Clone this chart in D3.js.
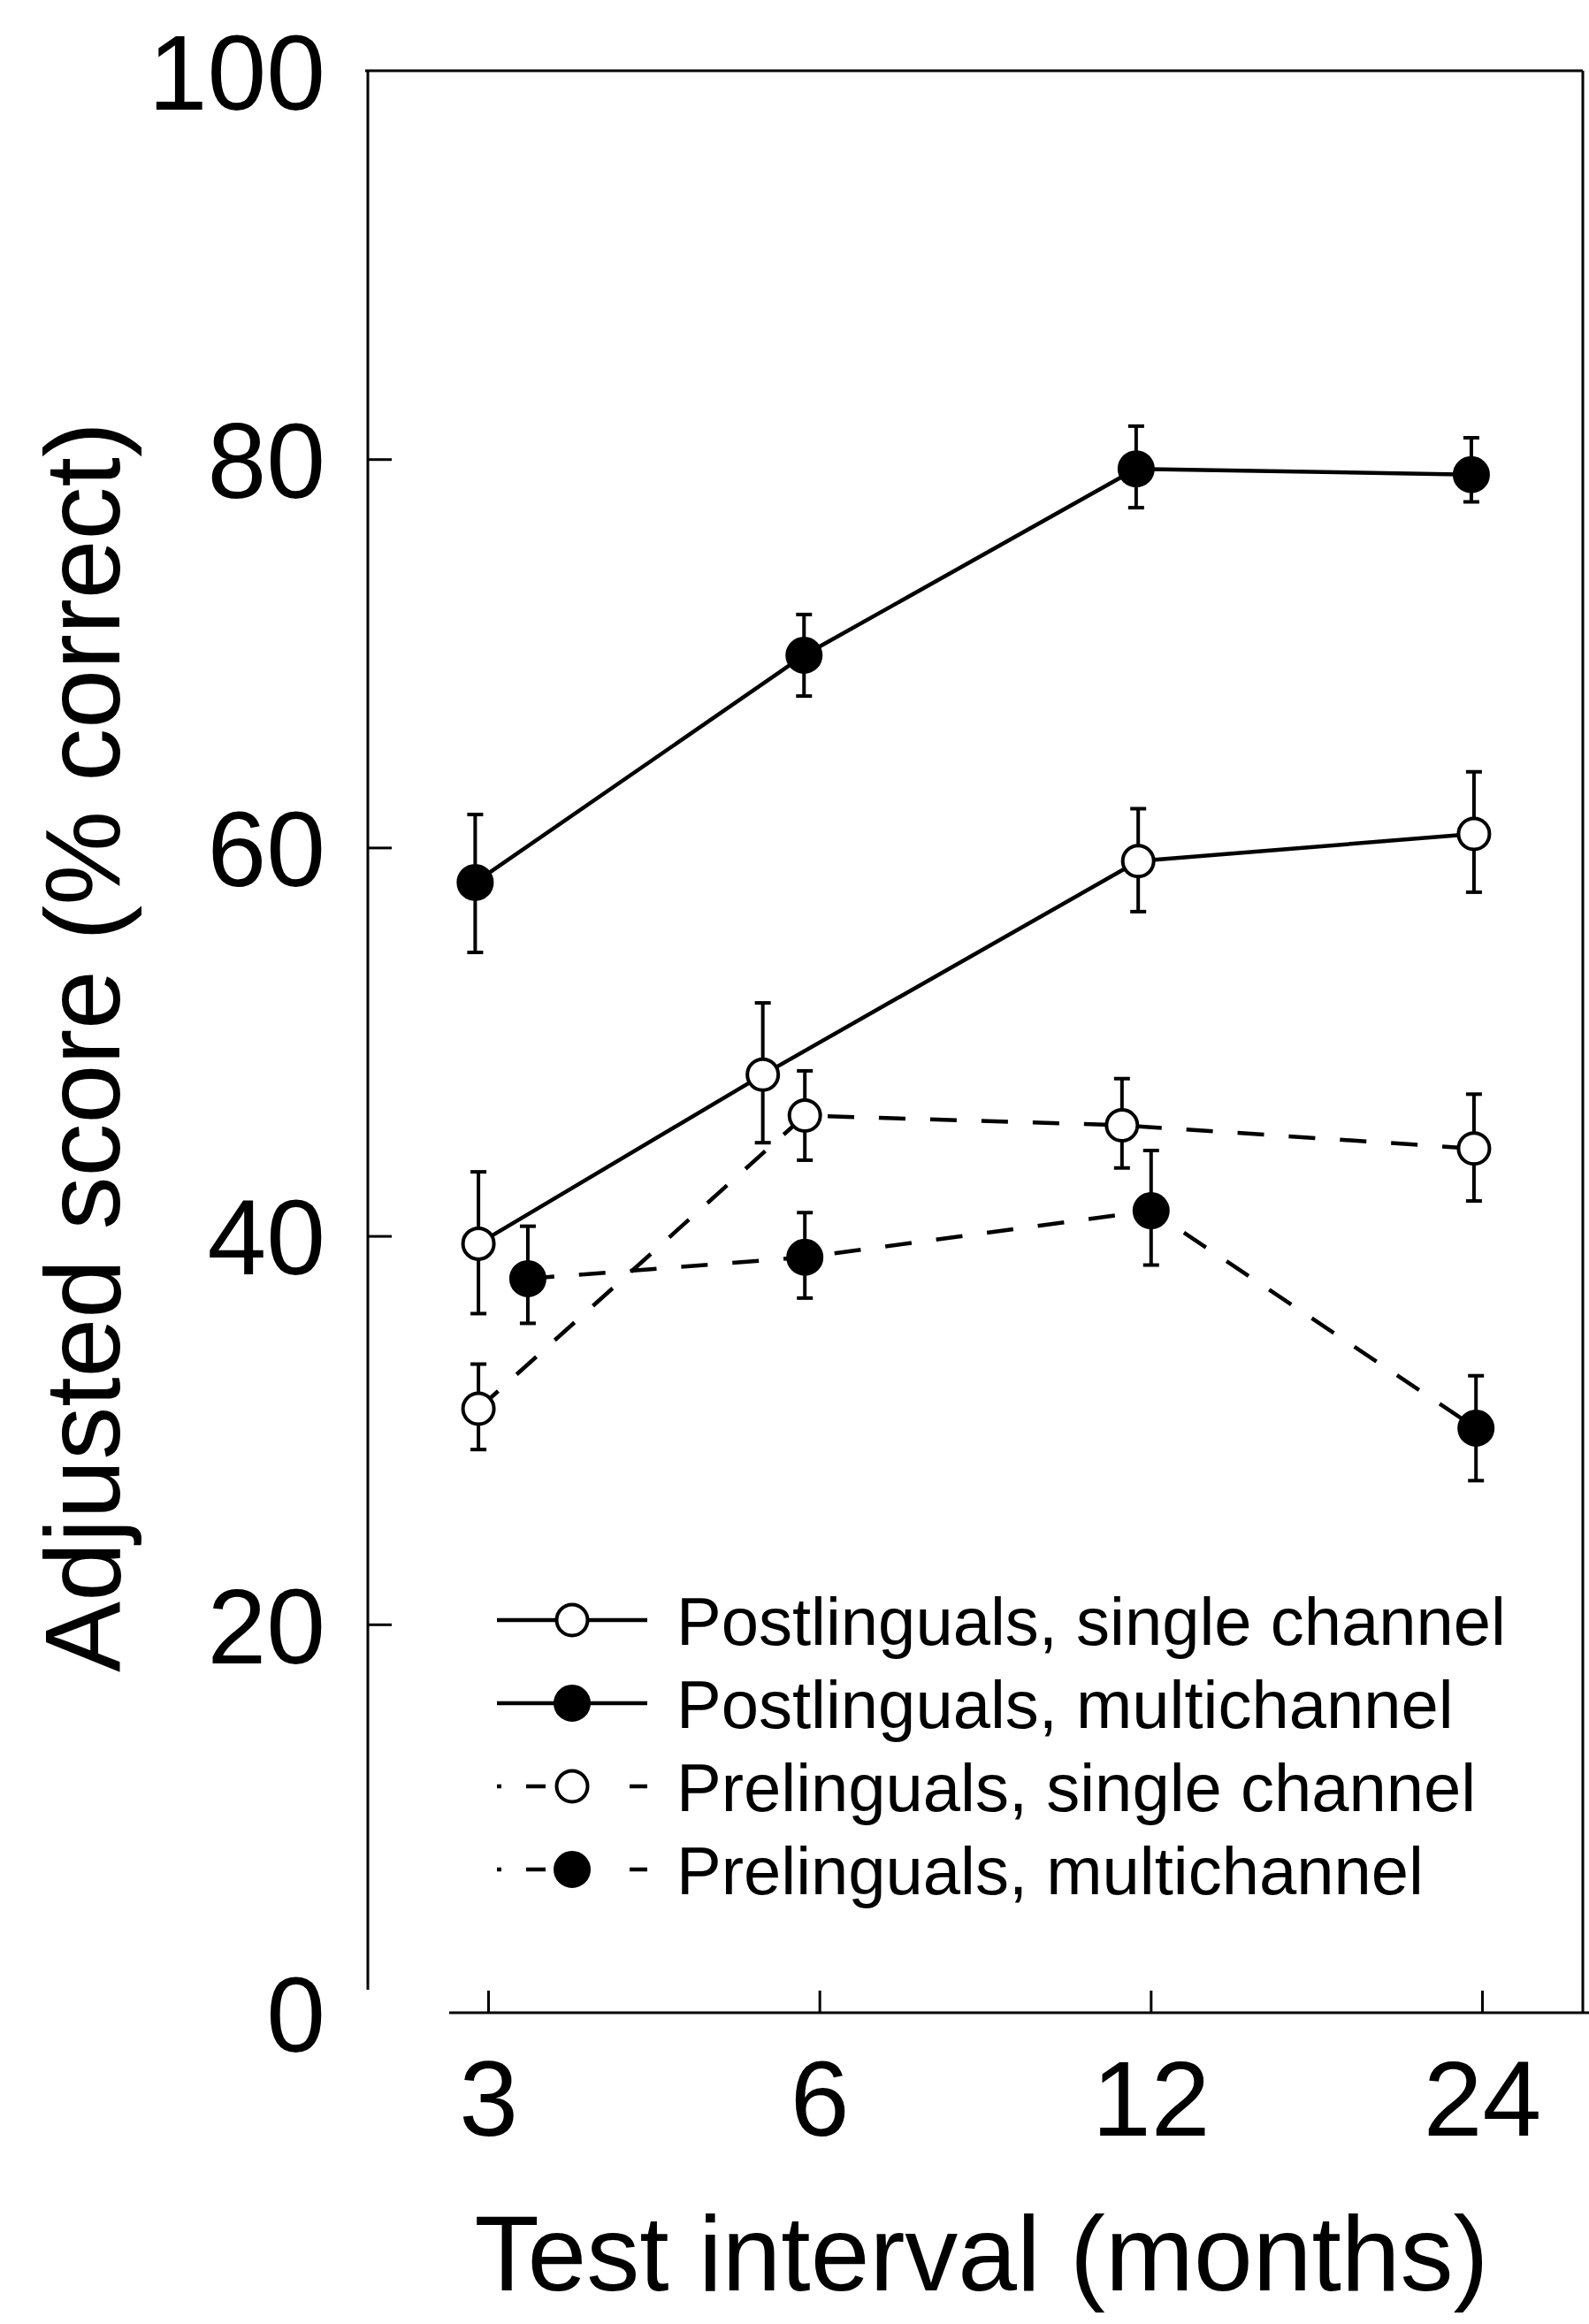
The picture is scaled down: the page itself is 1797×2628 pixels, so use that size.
<!DOCTYPE html>
<html>
<head>
<meta charset="utf-8">
<script src="https://cdn.jsdelivr.net/npm/d3@7/dist/d3.min.js"></script>
<style>
  html, body { margin: 0; padding: 0; background: #fff; }
  svg { display: block; }
  text { font-family: "Liberation Sans", Arial, Helvetica, sans-serif; fill: #000; }
</style>
</head>
<body>
<div id="chart"></div>
<script>
// Test intervals (months) and tick labels
const months = [3, 6, 12, 24];
const yTicks = [0, 20, 40, 60, 80, 100];

// Series names (legend order)
const seriesNames = [
  'Postlinguals, single channel',
  'Postlinguals, multichannel',
  'Prelinguals, single channel',
  'Prelinguals, multichannel'
];

// Plotted x positions (months, points are nudged sideways in the figure)
const postSingleX = [2.94, 5.33, 11.69, 23.6];
const postMultiX  = [2.92, 5.81, 11.64, 23.47];
const preSingleX  = [2.94, 5.82, 11.30, 23.6];
const preMultiX   = [3.26, 5.82, 12.01, 23.7];

// Mean adjusted score (% correct)
const postSingle = [39.6, 48.3, 59.3, 60.7];
const postMulti  = [58.2, 69.9, 79.5, 79.2];
const preSingle  = [31.1, 46.2, 45.7, 44.5];
const preMulti   = [37.8, 38.9, 41.3, 30.1];

// Error bar ends
const postSingleHi = [43.3, 52.0, 62.0, 63.9];
const postSingleLo = [36.0, 44.8, 56.7, 57.7];
const postMultiHi  = [61.7, 72.0, 81.7, 81.1];
const postMultiLo  = [54.6, 67.8, 77.5, 77.8];
const preSingleHi  = [33.4, 48.5, 48.1, 47.3];
const preSingleLo  = [29.0, 43.9, 43.5, 41.8];
const preMultiHi   = [40.5, 41.2, 44.4, 32.8];
const preMultiLo   = [35.5, 36.8, 38.5, 27.4];

const width = 1797;
const height = 2628;

const svg = d3.select('#chart')
  .append('svg')
  .attr('width', width)
  .attr('height', height);

// scales: months are evenly spaced on a log2 axis
const x = d3.scaleLog().base(2).domain([3, 24]).range([552, 1676]);
const y = d3.scaleLinear().domain([0, 100]).range([2276, 80]);

const build = (xs, vals, his, los) => vals.map((v, i) => ({ m: xs[i], v: v, hi: his[i], lo: los[i] }));

const series = [
  { name: seriesNames[0], filled: false, dashed: false, pts: build(postSingleX, postSingle, postSingleHi, postSingleLo) },
  { name: seriesNames[1], filled: true,  dashed: false, pts: build(postMultiX, postMulti, postMultiHi, postMultiLo) },
  { name: seriesNames[2], filled: false, dashed: true,  pts: build(preSingleX, preSingle, preSingleHi, preSingleLo) },
  { name: seriesNames[3], filled: true,  dashed: true,  pts: build(preMultiX, preMulti, preMultiHi, preMultiLo) }
];

// frame
const frame = svg.append('g').attr('stroke', '#000').attr('stroke-width', 3).attr('fill', 'none');
frame.append('line').attr('x1', 413).attr('x2', 1790).attr('y1', y(100)).attr('y2', y(100));
frame.append('line').attr('x1', 1790).attr('x2', 1790).attr('y1', y(100)).attr('y2', y(0));
frame.append('line').attr('x1', 416).attr('x2', 416).attr('y1', y(100)).attr('y2', y(0) - 26);
frame.append('line').attr('x1', 508).attr('x2', width).attr('y1', y(0)).attr('y2', y(0));

// y axis (ticks point inward)
const yAxis = svg.append('g')
  .attr('transform', 'translate(416,0)')
  .call(d3.axisLeft(y).tickValues(yTicks).tickSize(-27).tickSizeOuter(0).tickPadding(48));
yAxis.select('.domain').remove();
yAxis.selectAll('line').attr('stroke-width', 3);
yAxis.selectAll('.tick').filter(d => d === 0 || d === 100).select('line').remove();
yAxis.selectAll('text').attr('font-size', 120).attr('dy', '0.36em')
  .style('font-family', '"Liberation Sans", Arial, sans-serif');

// x axis
const xAxis = svg.append('g')
  .attr('transform', `translate(0,${y(0)})`)
  .call(d3.axisBottom(x).tickValues(months).tickFormat(d3.format('d')).tickSize(-25).tickSizeOuter(0).tickPadding(54));
xAxis.select('.domain').remove();
xAxis.selectAll('line').attr('stroke-width', 3);
xAxis.selectAll('text').attr('font-size', 120)
  .style('font-family', '"Liberation Sans", Arial, sans-serif');

// axis titles
svg.append('text')
  .attr('x', 1110).attr('y', 2590)
  .attr('text-anchor', 'middle')
  .attr('font-size', 120)
  .text('Test interval (months)');

svg.append('text')
  .attr('transform', 'translate(135,1184) rotate(-90)')
  .attr('text-anchor', 'middle')
  .attr('font-size', 120)
  .text('Adjusted score (% correct)');

const line = d3.line().x(d => x(d.m)).y(d => y(d.v));
const dash = '30,28';

// lines
svg.append('g').selectAll('path')
  .data(series)
  .enter()
  .append('path')
  .attr('d', d => line(d.pts))
  .attr('fill', 'none')
  .attr('stroke', '#000')
  .attr('stroke-width', 4.5)
  .attr('stroke-dasharray', d => d.dashed ? dash : null);

// error bars
const bars = svg.append('g').attr('stroke', '#000').attr('stroke-width', 4);
series.forEach(s => {
  s.pts.forEach(p => {
    const cx = x(p.m);
    bars.append('line').attr('x1', cx).attr('x2', cx).attr('y1', y(p.hi)).attr('y2', y(p.lo));
    bars.append('line').attr('x1', cx - 9).attr('x2', cx + 9).attr('y1', y(p.hi)).attr('y2', y(p.hi));
    bars.append('line').attr('x1', cx - 9).attr('x2', cx + 9).attr('y1', y(p.lo)).attr('y2', y(p.lo));
  });
});

// markers
series.forEach(s => {
  svg.append('g').selectAll('circle')
    .data(s.pts)
    .enter()
    .append('circle')
    .attr('cx', d => x(d.m))
    .attr('cy', d => y(d.v))
    .attr('r', s.filled ? 19 : 17.5)
    .attr('fill', s.filled ? '#000' : '#fff')
    .attr('stroke', '#000')
    .attr('stroke-width', 4);
});

// legend
const legend = svg.append('g');
const rowY = i => 1832 + i * 94;
series.forEach((s, i) => {
  const g = legend.append('g').attr('transform', `translate(0,${rowY(i)})`);
  g.append('line')
    .attr('x1', 562).attr('x2', 732).attr('y1', 0).attr('y2', 0)
    .attr('stroke', '#000').attr('stroke-width', 4.5)
    .attr('stroke-dasharray', s.dashed ? '5,28,22,95,20' : null);
  g.append('circle')
    .attr('cx', 647).attr('cy', 0)
    .attr('r', s.filled ? 19 : 17.5)
    .attr('fill', s.filled ? '#000' : '#fff')
    .attr('stroke', '#000').attr('stroke-width', 4);
  g.append('text')
    .attr('x', 765).attr('y', 28)
    .attr('font-size', 76)
    .text(s.name);
});
</script>
</body>
</html>
